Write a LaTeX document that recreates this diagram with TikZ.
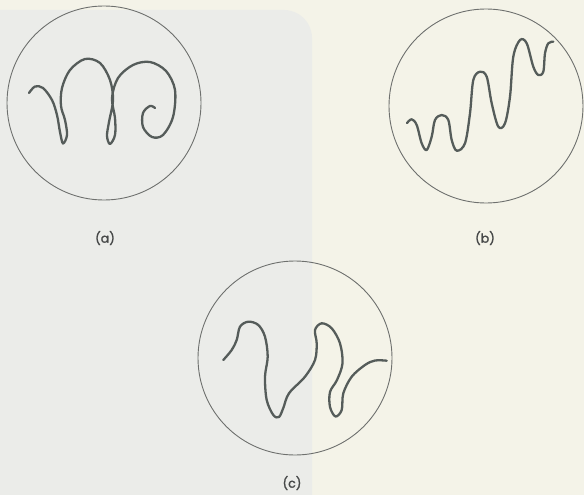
\documentclass[tikz,border=0pt]{standalone}
\usepackage{fontspec}
\setmainfont{Poppins}
\newfontfamily\capfont[FakeBold=1.5]{Poppins}
\definecolor{bgcream}{RGB}{244,243,232}
\definecolor{bggray}{RGB}{235,236,233}
\definecolor{inkcurve}{RGB}{85,92,90}
\definecolor{inkcircle}{RGB}{110,112,110}
\definecolor{inktext}{RGB}{70,72,72}
\tikzset{
  dish/.style={circle, draw=inkcircle, line width=0.9pt, minimum size=194pt, inner sep=0pt},
  worm/.style={draw=inkcurve, line width=2.3pt, line cap=round, line join=round},
  caption/.style={font=\capfont\fontsize{12.5}{14}\selectfont, text=inktext, inner sep=0pt}
}
\begin{document}
\begin{tikzpicture}[x=1pt,y=-1pt]
\useasboundingbox (0,0) rectangle (584,495);
\fill[bgcream] (0,0) rectangle (584,495);
\fill[bggray, rounded corners=28pt] (-30,10) rectangle (312,530);

% dishes
\node[dish] (da) at (104,103) {};
\node[dish] (db) at (486,106) {};
\node[dish] (dc) at (295,358) {};

% captions
\node[caption] (la) at (105,238) {(a)};
\node[caption] (lb) at (485,238) {(b)};
\node[caption] (lc) at (292,483) {(c)};

% curve (a): looped
\draw[worm] plot[smooth, tension=0.55] coordinates {
 (29,93) (35,86.5) (43,88) (52,100) (57,115) (60,132) (63,143.5) (67,135)
 (65,120) (61,106) (62,88) (70,70) (85,59) (100,63) (110,80) (113,100)
 (109,122) (107,136) (110,144) (115,135) (115,118) (112,98) (118,78)
 (133,65) (150,62) (166,71) (175,90) (173,117) (163,135) (152,137)
 (143,127) (143,113) (150,106) (155,108)};

% curve (b): rising wave
\draw[worm] plot[smooth, tension=0.55] coordinates {
 (407,123) (411.7,119.3) (416.7,125) (421.7,143.3) (426.7,150) (431.7,136.7)
 (435,120) (441.7,115) (448.3,120) (451.7,140) (456.7,150.7) (465,143.3)
 (470,113.3) (473.3,80) (480,71.7) (486.7,76.7) (491.7,103.3) (498.3,126.7)
 (505,123.3) (510,96.7) (513.3,56.7) (520,40) (526.7,43.3) (533.3,66.7)
 (538.3,75) (543.3,71.7) (545,53.3) (548.3,43.3) (553.3,41.7)};

% curve (c): irregular
\draw[worm] plot[smooth, tension=0.55] coordinates {
 (223.3,360) (231.7,350) (236.7,340) (240,326.7) (248.3,321.7) (258.3,325)
 (265,336.7) (267.7,356.7) (265,376.7) (266.7,400) (273.3,415) (279,417)
 (283.3,408) (289,393.3) (305,376.7) (315,360) (316.7,343.3) (315,330)
 (321.7,323.3) (331.7,328.3) (340,343.3) (342.5,363.3) (337,380) (330,392)
 (330,407) (335.5,416.5) (341.7,410) (343.3,393.3) (351.7,376.7) (365,365)
 (375,360.5) (386.7,360.7)};
\end{tikzpicture}
\end{document}
